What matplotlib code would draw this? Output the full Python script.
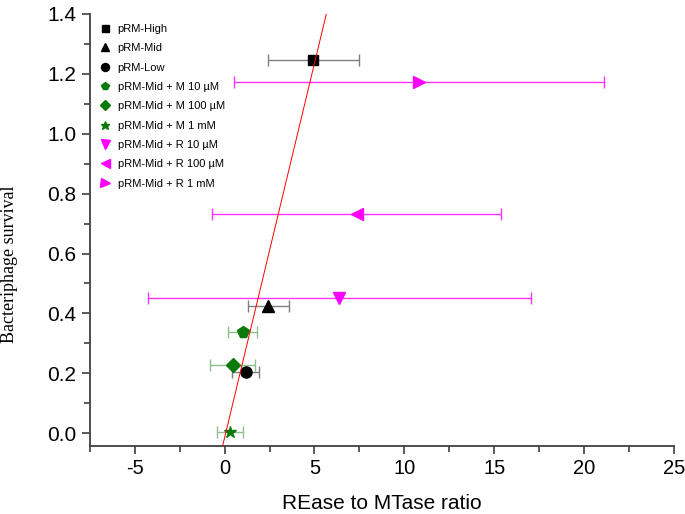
import matplotlib.pyplot as plt
from matplotlib.ticker import MultipleLocator
from matplotlib.lines import Line2D

# data
labels = ['pRM-High', 'pRM-Mid', 'pRM-Low',
          'pRM-Mid + M 10 \u00b5M', 'pRM-Mid + M 100 \u00b5M', 'pRM-Mid + M 1 mM',
          'pRM-Mid + R 10 \u00b5M', 'pRM-Mid + R 100 \u00b5M', 'pRM-Mid + R 1 mM']
ratio = [4.94, 2.44, 1.17, 1.0, 0.46, 0.28, 6.37, 7.35, 10.8]
ratio_err = [2.55, 1.12, 0.75, 0.8, 1.25, 0.72, 10.65, 8.05, 10.3]
survival = [1.246, 0.424, 0.204, 0.337, 0.227, 0.003, 0.451, 0.732, 1.173]
markers = ['s', '^', 'o', 'p', 'D', '*', 'v', '<', '>']
msizes = [7, 8.5, 8, 8.5, 7.5, 9, 9, 9, 9]
colors = ['black'] * 3 + ['#0a7a0a'] * 3 + ['#ff00ff'] * 3
ecolors = ['#7f7f7f'] * 3 + ['#8fbf8f'] * 3 + ['#ff33ff'] * 3

fit_slope = 0.25
fit_intercept = -0.015

plt.rcParams['font.family'] = ['Liberation Sans', 'DejaVu Sans']
plt.rcParams['axes.unicode_minus'] = False
fig = plt.figure(figsize=(6.85, 5.14), dpi=100)
ax = fig.add_axes([0.131, 0.132, 0.853, 0.841])

handles = []
for i in range(len(labels)):
    ax.errorbar(ratio[i], survival[i], xerr=ratio_err[i], fmt=markers[i],
                color=colors[i], ms=msizes[i], ecolor=ecolors[i],
                elinewidth=1, capsize=4, capthick=1, zorder=3)
    handles.append(Line2D([], [], ls='none', marker=markers[i], color=colors[i],
                          ms=msizes[i] * 0.72, label=labels[i]))

xs = [-7.5, 25]
ax.plot(xs, [fit_intercept + fit_slope * v for v in xs], color='red', lw=0.7, zorder=4)

ax.set_xlim(-7.5, 25)
ax.set_ylim(-0.043, 1.4)
ax.xaxis.set_major_locator(MultipleLocator(5))
ax.xaxis.set_minor_locator(MultipleLocator(2.5))
ax.yaxis.set_major_locator(MultipleLocator(0.2))
ax.yaxis.set_minor_locator(MultipleLocator(0.1))
ax.yaxis.set_major_formatter(plt.FormatStrFormatter('%.1f'))
ax.spines['top'].set_visible(False)
ax.spines['right'].set_visible(False)
for s in ['left', 'bottom']:
    ax.spines[s].set_color('#404040')
    ax.spines[s].set_linewidth(1.3)
ax.tick_params(which='major', length=6, width=1.2, color='#404040', labelsize=15)
ax.tick_params(axis='x', labelsize=14.5)
ax.tick_params(which='minor', length=4, width=1.2, color='#404040')

ax.set_xlabel('REase to MTase ratio', fontsize=15, labelpad=11)
ax.set_ylabel('Bacteriphage survival', fontsize=13, family='Liberation Serif')
ax.yaxis.set_label_coords(-0.122, 0.42)

ax.legend(handles=handles, loc='upper left', frameon=False, fontsize=8, handletextpad=0.6,
          labelspacing=0.84, borderaxespad=0.6, handlelength=1, borderpad=0.3)

fig.savefig('out.png', dpi=100)
